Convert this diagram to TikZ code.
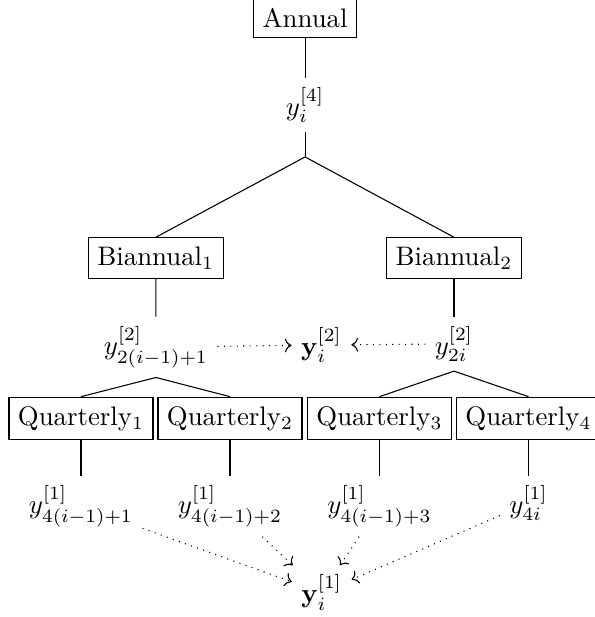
\documentclass[tikz,border=0pt]{standalone}
\usepackage{amsmath,amssymb}
\usepackage{tikz}
\usetikzlibrary{positioning,arrows.meta,calc}

\begin{document}
\begin{tikzpicture}[
          x=1cm, y=1cm,
          box/.style={draw, anchor=north},
          val/.style={anchor=north},
          agg/.style={->, dotted}
      ]
        \useasboundingbox (0,0) rectangle (7.789,8.090);
        % levels: annual, biannual, quarterly
        \node[box] (annual) at (4.0,8.10) {Annual};
        \node[val] (y4) at (4.0,7.071) {$y_i^{[4]}$};
        \coordinate (split) at (4.0,6.032);
        \node[box] (bi1) at (2.043,4.979) {Biannual$_1$};
        \node[box] (bi2) at (5.953,4.979) {Biannual$_2$};
        \node[val] (y2a) at (2.045,3.937) {$y_{2(i-1)+1}^{[2]}$};
        \node[val] (y2b) at (5.953,3.937) {$y_{2i}^{[2]}$};
        \node (ymid) at (4.215,3.566) {$\mathbf{y}_i^{[2]}$};
        \node[box] (q1) at (1.062,2.889) {Quarterly$_1$};
        \node[box] (q2) at (3.016,2.889) {Quarterly$_2$};
        \node[box] (q3) at (4.976,2.889) {Quarterly$_3$};
        \node[box] (q4) at (6.930,2.889) {Quarterly$_4$};
        \node[val] (y1a) at (1.062,1.849) {$y_{4(i-1)+1}^{[1]}$};
        \node[val] (y1b) at (3.016,1.849) {$y_{4(i-1)+2}^{[1]}$};
        \node[val] (y1c) at (4.976,1.849) {$y_{4(i-1)+3}^{[1]}$};
        \node[val] (y1d) at (6.930,1.849) {$y_{4i}^{[1]}$};
        \node (ybot) at (4.218,0.321) {$\mathbf{y}_i^{[1]}$};
        % tree edges
        \draw (annual) -- (y4);
        \draw (y4) -- (split);
        \draw (split) -- (bi1.north);
        \draw (split) -- (bi2.north);
        \draw (bi1) -- (y2a);
        \draw (bi2) -- (y2b);
        \draw (y2a.south) -- (q1.north);
        \draw (y2a.south) -- (q2.north);
        \draw (y2b.south) -- (q3.north);
        \draw (y2b.south) -- (q4.north);
        \draw (q1) -- (y1a);
        \draw (q2) -- (y1b);
        \draw (q3) -- (y1c);
        \draw (q4) -- (y1d);
        % stacking into vectors
        \draw[agg] (y2a) -- (ymid);
        \draw[agg] (y2b) -- (ymid);
        \draw[agg] (y1a) -- (ybot);
        \draw[agg] (y1b) -- (ybot);
        \draw[agg] (y1c) -- (ybot);
        \draw[agg] (y1d) -- (ybot);
      \end{tikzpicture}
\end{document}
